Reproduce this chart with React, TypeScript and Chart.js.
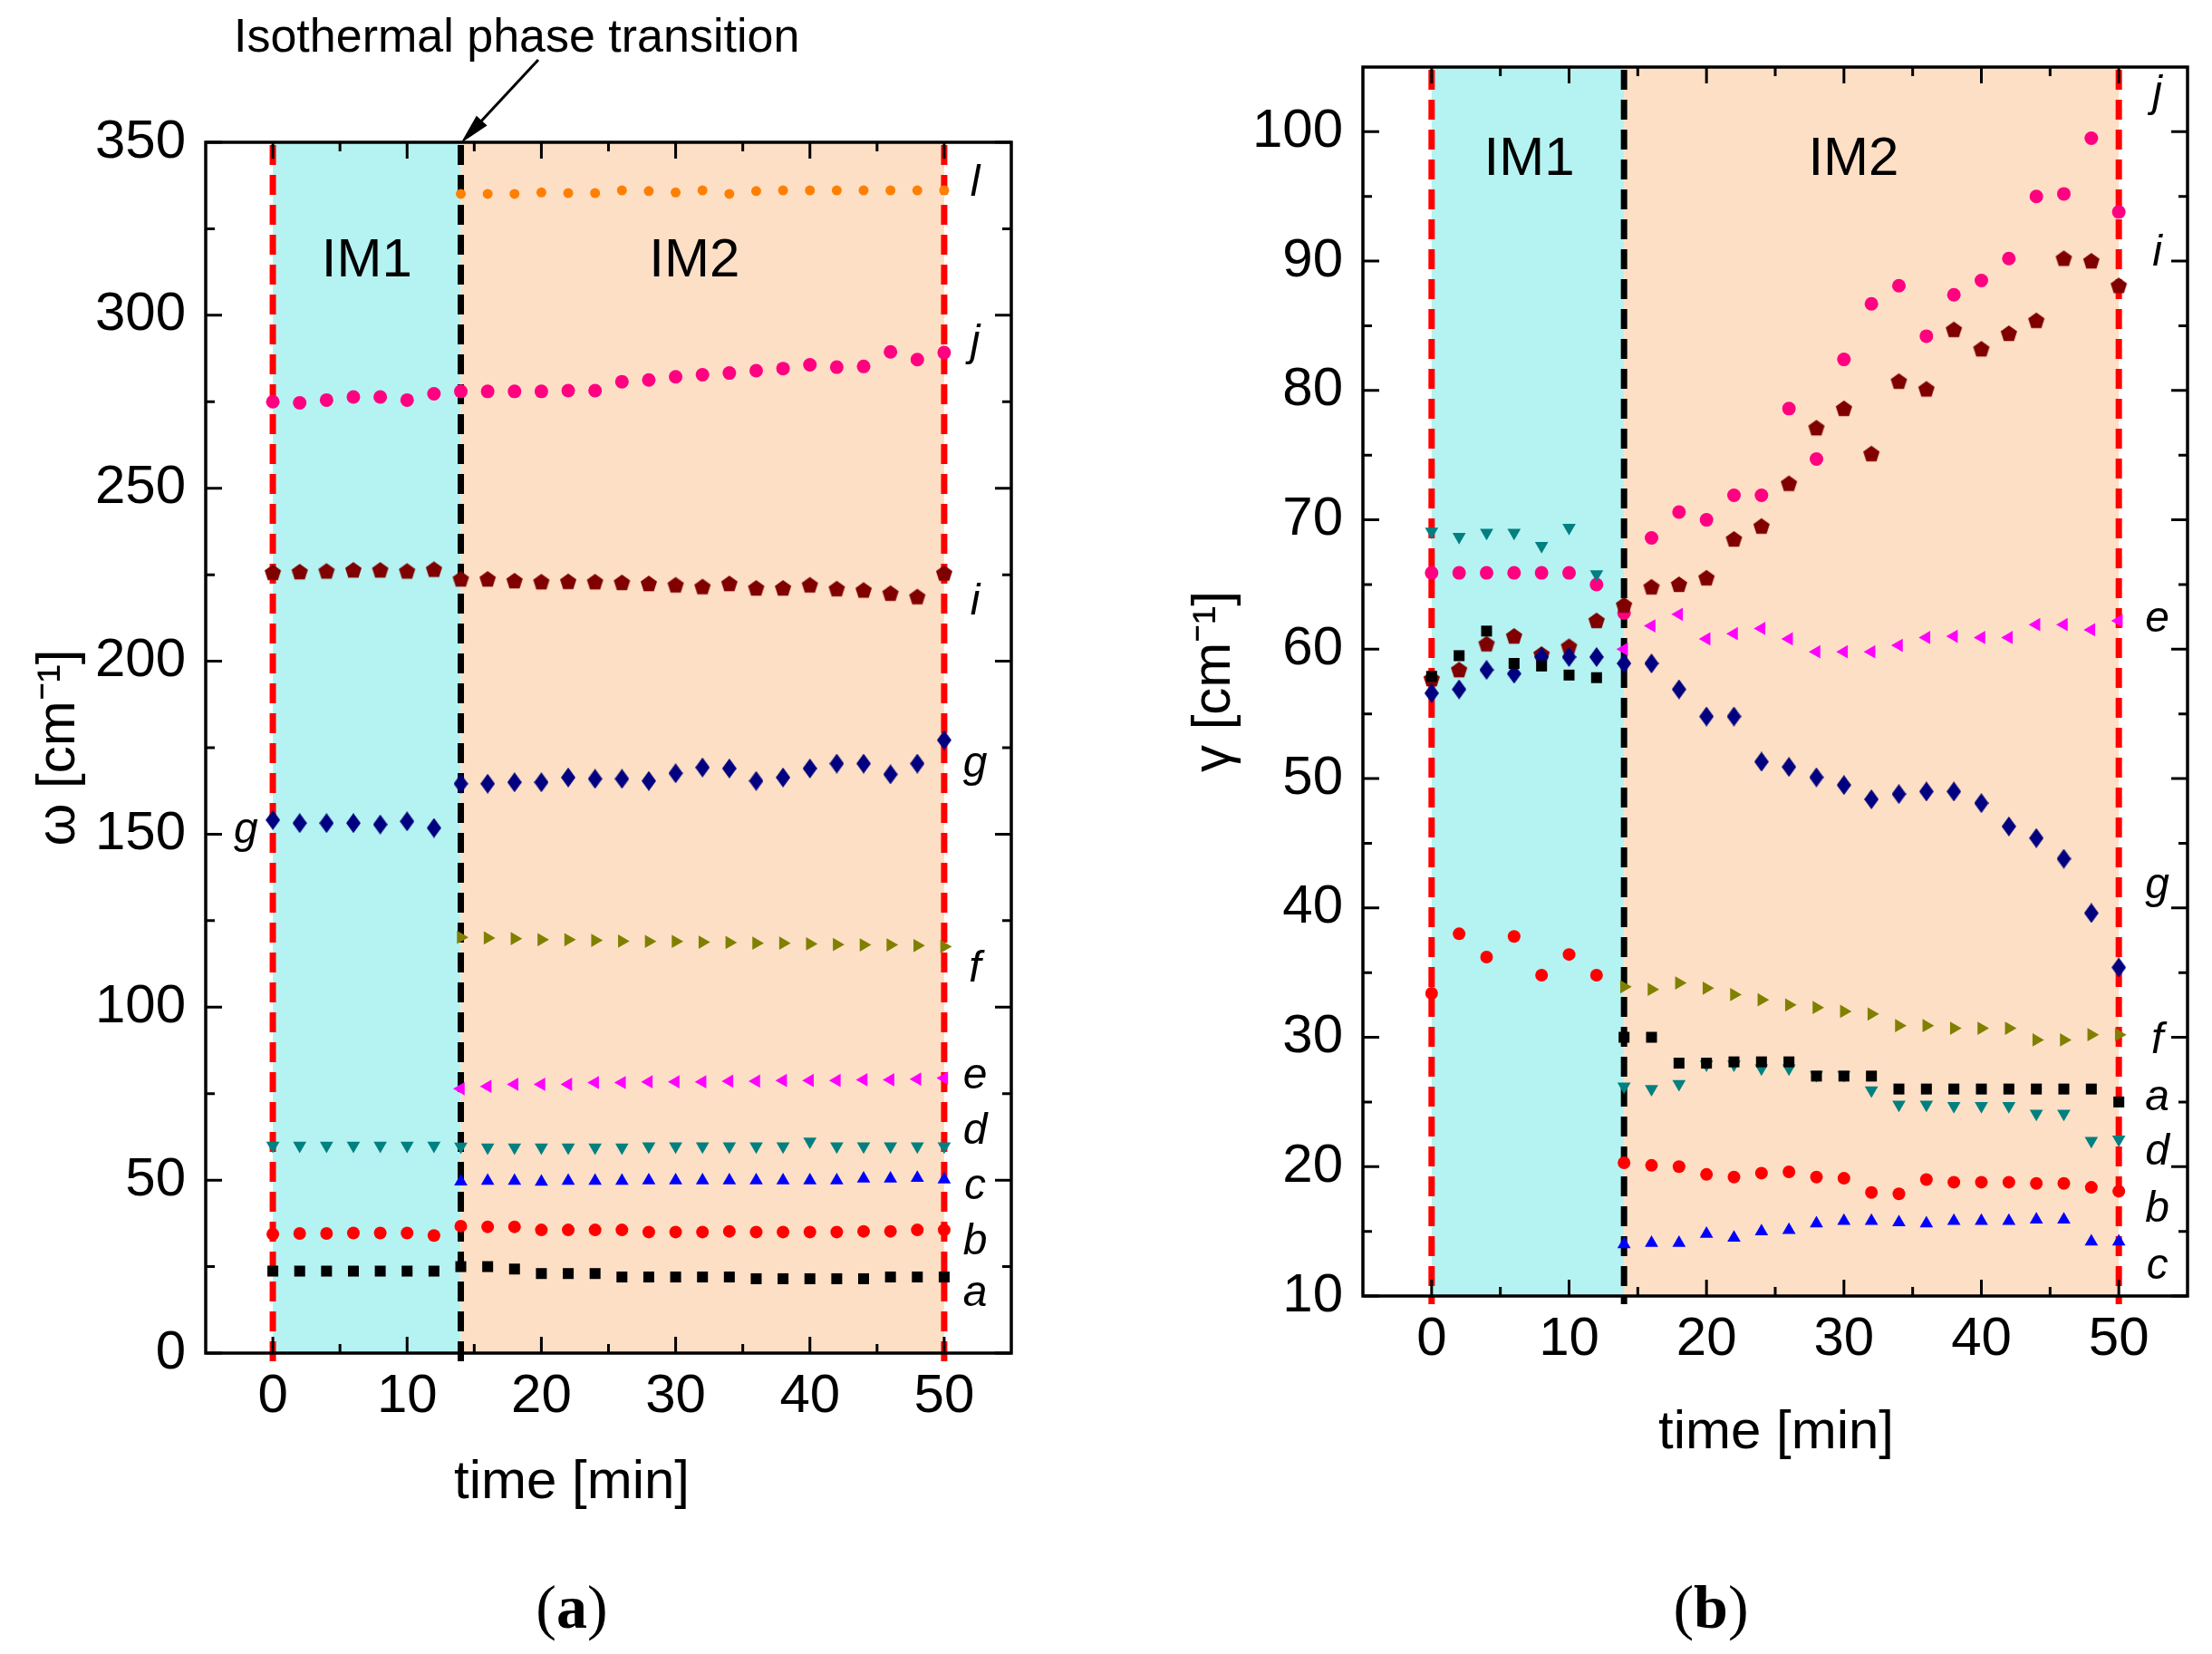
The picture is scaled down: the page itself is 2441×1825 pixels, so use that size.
import React, { useEffect, useRef } from "react";
import { Chart, registerables } from "chart.js";

Chart.register(...registerables);

const FONT = '"Liberation Sans", Arial, sans-serif';
Chart.defaults.font.family = FONT;
Chart.defaults.color = "#000";

const timeIM1 = [0, 2, 4, 6, 8, 10, 12];
const timeIM2 = [14, 16, 18, 20, 22, 24, 26, 28, 30, 32, 34, 36, 38, 40, 42, 44, 46, 48, 50];
const phaseBounds = [0, 14, 50];
const phaseNames = ["IM1", "IM2"];
const xTicks = [0, 10, 20, 30, 40, 50];
const yTicksA = [0, 50, 100, 150, 200, 250, 300, 350];
const yTicksB = [10, 20, 30, 40, 50, 60, 70, 80, 90, 100];

// (a) omega [cm-1]
const wA1 = [23.7, 23.7, 23.7, 23.7, 23.7, 23.7, 23.7];
const wA2 = [25, 25, 24.3, 23, 23, 23, 22, 22, 22, 22, 22, 21.5, 21.5, 21.5, 21.5, 21.5, 22, 22, 22];
const wB1 = [34.4, 34.6, 34.6, 34.7, 34.7, 34.7, 34.0];
const wB2 = [36.7, 36.5, 36.5, 35.6, 35.6, 35.6, 35.6, 35, 35, 35, 35.2, 35, 35, 35, 35, 35.2, 35.2, 35.6, 35.6];
const wC2 = [49.6, 49.8, 49.8, 49.5, 49.8, 49.8, 49.8, 49.9, 49.9, 49.9, 49.9, 49.9, 49.9, 49.9, 49.9, 50.4, 50.4, 50.6, 50.2];
const wD1 = [60, 60, 60, 60, 60, 60, 60];
const wD2 = [59.7, 59.5, 59.5, 59.5, 59.5, 59.5, 59.5, 59.8, 59.8, 59.8, 59.8, 59.8, 59.8, 61.2, 59.8, 59.8, 59.8, 59.8, 59.8];
const wE2 = [76.4, 77.1, 77.7, 77.7, 77.7, 78.2, 78.2, 78.4, 78.4, 78.4, 78.6, 78.6, 78.8, 78.8, 78.8, 79, 79, 79.2, 79.5];
const wF2 = [120.2, 120, 119.8, 119.5, 119.5, 119.3, 119.1, 119, 119, 118.8, 118.7, 118.5, 118.5, 118.3, 118.1, 118, 118, 117.8, 117.5];
const wG1 = [154.1, 153.2, 153.2, 153.2, 152.8, 153.7, 151.8];
const wG2 = [164.6, 164.6, 165, 165, 166.4, 166, 166, 165.4, 167.6, 169.3, 169, 165.4, 166.4, 169, 170.4, 170.4, 167.3, 170.4, 177.2];
const wI1 = [225.6, 225.8, 226.0, 226.3, 226.3, 226.0, 226.5];
const wI2 = [223.7, 223.7, 223.2, 222.9, 223.0, 222.9, 222.7, 222.4, 222.0, 221.5, 222.4, 221.1, 221.1, 222.0, 220.9, 220.5, 219.6, 218.6, 225.4];
const wJ1 = [275.0, 274.7, 275.5, 276.4, 276.4, 275.5, 277.3];
const wJ2 = [278, 278, 278, 278, 278.2, 278.2, 280.8, 281.3, 282.2, 282.8, 283.3, 284.0, 284.6, 285.7, 285.0, 285.2, 289.4, 287.2, 289.2];
const wL2 = [335.1, 335.1, 335.1, 335.5, 335.3, 335.3, 336.1, 335.9, 335.5, 336.1, 335.1, 335.9, 336.1, 336.1, 336.1, 336.1, 336.1, 336.1, 336.1];

// (b) gamma [cm-1]
const gA1 = [57.9, 59.5, 61.4, 58.9, 58.7, 58.0, 57.8];
const gA2 = [30, 30, 28, 28, 28.1, 28.1, 28.1, 27, 27, 27, 26, 26, 26, 26, 26, 26, 26, 26, 25];
const gB1 = [33.4, 38.0, 36.2, 37.8, 34.8, 36.4, 34.8];
const gB2 = [20.3, 20.1, 20.0, 19.4, 19.2, 19.5, 19.6, 19.2, 19.1, 18.0, 17.9, 19.0, 18.8, 18.8, 18.8, 18.7, 18.7, 18.4, 18.1];
const gC2 = [14.0, 14.1, 14.1, 14.8, 14.5, 15.0, 15.1, 15.6, 15.8, 15.8, 15.7, 15.6, 15.8, 15.8, 15.8, 15.9, 15.9, 14.2, 14.2];
const gD1 = [69.1, 68.7, 69.0, 69.0, 68.0, 69.4, 65.8];
const gD2 = [26.2, 26.0, 26.4, 27.9, 27.9, 27.6, 27.6, 27.1, 27.1, 25.9, 24.8, 24.8, 24.7, 24.7, 24.7, 24.1, 24.1, 22.0, 22.1];
const gE2 = [60.0, 61.8, 62.7, 60.8, 61.2, 61.6, 60.8, 59.8, 59.8, 59.8, 60.3, 60.9, 61.0, 60.9, 60.9, 61.9, 61.9, 61.5, 62.2];
const gF2 = [33.9, 33.7, 34.2, 33.8, 33.3, 32.9, 32.5, 32.3, 32.0, 31.8, 30.9, 30.9, 30.7, 30.7, 30.7, 29.8, 29.8, 30.2, 30.2];
const gG1 = [56.6, 56.9, 58.4, 58.1, 59.4, 59.4, 59.4];
const gG2 = [58.9, 58.9, 56.9, 54.8, 54.8, 51.3, 50.9, 50.1, 49.5, 48.4, 48.8, 49.0, 49.0, 48.1, 46.3, 45.4, 43.8, 39.6, 35.4];
const gI1 = [57.7, 58.4, 60.4, 61.0, 59.6, 60.2, 62.2];
const gI2 = [63.4, 64.8, 65.0, 65.5, 68.5, 69.5, 72.8, 77.1, 78.6, 75.1, 80.7, 80.1, 84.7, 83.2, 84.4, 85.4, 90.2, 90.0, 88.1];
const gJ1 = [65.9, 65.9, 65.9, 65.9, 65.9, 65.9, 65.0];
const gJ2 = [62.8, 68.6, 70.6, 70.0, 71.9, 71.9, 78.6, 74.7, 82.4, 86.7, 88.1, 84.2, 87.4, 88.5, 90.2, 95.0, 95.2, 99.5, 93.8];

const COLORS: Record<string, string> = {
  a: "#000000",
  b: "#ff0000",
  c: "#0000ff",
  d: "#008080",
  e: "#ff00ff",
  f: "#808000",
  g: "#000080",
  i: "#800000",
  j: "#ff0080",
  l: "#ff8000",
};

const MARKERS: Record<string, string> = {
  a: "square", b: "circle", c: "up", d: "down", e: "left", f: "right",
  g: "diamond", i: "pentagon", j: "bigcircle", l: "small",
};

type Series = { key: string; im1?: number[]; im2: number[] };

const seriesA: Series[] = [
  { key: "a", im1: wA1, im2: wA2 },
  { key: "b", im1: wB1, im2: wB2 },
  { key: "c", im2: wC2 },
  { key: "d", im1: wD1, im2: wD2 },
  { key: "e", im2: wE2 },
  { key: "f", im2: wF2 },
  { key: "g", im1: wG1, im2: wG2 },
  { key: "i", im1: wI1, im2: wI2 },
  { key: "j", im1: wJ1, im2: wJ2 },
  { key: "l", im2: wL2 },
];

const seriesB: Series[] = [
  { key: "a", im1: gA1, im2: gA2 },
  { key: "b", im1: gB1, im2: gB2 },
  { key: "c", im2: gC2 },
  { key: "d", im1: gD1, im2: gD2 },
  { key: "e", im2: gE2 },
  { key: "f", im2: gF2 },
  { key: "g", im1: gG1, im2: gG2 },
  { key: "i", im1: gI1, im2: gI2 },
  { key: "j", im1: gJ1, im2: gJ2 },
];

// curve labels next to the right axis (x, y in data units)
const labelsA = [
  { t: "l", x: 52.3, y: 338 }, { t: "j", x: 52.3, y: 292 }, { t: "i", x: 52.3, y: 217 },
  { t: "g", x: 52.3, y: 170 }, { t: "f", x: 52.3, y: 111 }, { t: "e", x: 52.3, y: 80 },
  { t: "d", x: 52.3, y: 64 }, { t: "c", x: 52.3, y: 48 }, { t: "b", x: 52.3, y: 32 },
  { t: "a", x: 52.3, y: 17 }, { t: "g", x: -2, y: 151 },
];
const labelsB = [
  { t: "j", x: 52.8, y: 102.9 }, { t: "i", x: 52.8, y: 90.6 }, { t: "e", x: 52.8, y: 62.3 },
  { t: "g", x: 52.8, y: 41.7 }, { t: "f", x: 52.8, y: 29.7 }, { t: "a", x: 52.8, y: 25.3 },
  { t: "d", x: 52.8, y: 21.1 }, { t: "b", x: 52.8, y: 16.7 }, { t: "c", x: 52.8, y: 12.3 },
];

function shapeCanvas(w: number, h: number, color: string, pts: number[][]) {
  const c = document.createElement("canvas");
  c.width = w;
  c.height = h;
  const g = c.getContext("2d")!;
  g.fillStyle = color;
  g.beginPath();
  pts.forEach(([px, py], i) => (i ? g.lineTo(px, py) : g.moveTo(px, py)));
  g.closePath();
  g.fill();
  return c;
}

function markerOpts(kind: string, color: string) {
  switch (kind) {
    case "square": return { pointStyle: "rect", radius: 8.5, rotation: 0 };
    case "circle": return { pointStyle: "circle", radius: 7, rotation: 0 };
    case "bigcircle": return { pointStyle: "circle", radius: 7.5, rotation: 0 };
    case "small": return { pointStyle: "circle", radius: 5.5, rotation: 0 };
    case "up": return { pointStyle: "triangle", radius: 8.5, rotation: 0 };
    case "down": return { pointStyle: "triangle", radius: 8.5, rotation: 180 };
    case "left": return { pointStyle: "triangle", radius: 8.5, rotation: 270 };
    case "right": return { pointStyle: "triangle", radius: 8.5, rotation: 90 };
    case "diamond":
      return { pointStyle: shapeCanvas(16, 22, color, [[8, 0], [16, 11], [8, 22], [0, 11]]), radius: 9, rotation: 0 };
    default: {
      const r = 9.5;
      const pts: number[][] = [];
      for (let k = 0; k < 5; k++) {
        const a = -Math.PI / 2 + (k * 2 * Math.PI) / 5;
        pts.push([10 + r * Math.cos(a), 10.5 + r * Math.sin(a)]);
      }
      return { pointStyle: shapeCanvas(20, 20, color, pts), radius: 9, rotation: 0 };
    }
  }
}

type PanelCfg = {
  series: Series[];
  yTicks: number[];
  yMin: number;
  yMax: number;
  yTitle: string;
  box: { left: number; top: number; w: number; h: number };
  plot: { left: number; top: number; right: number; bottom: number };
  xTitleX: number;
  xTitleY: number;
  yTitleX: number;
  namesX: number[];
  namesY: number;
  labels: { t: string; x: number; y: number }[];
  annotate: boolean;
};

const panelA: PanelCfg = {
  series: seriesA,
  yTicks: yTicksA,
  yMin: 0,
  yMax: 350,
  yTitle: "\u03c9 [cm\u207b\u00b9]",
  box: { left: 0, top: 0, w: 1200, h: 1700 },
  plot: { left: 227, top: 157, right: 1116, bottom: 1493 },
  xTitleX: 631,
  xTitleY: 1636,
  yTitleX: 65,
  namesX: [7, 31.4],
  namesY: 315.6,
  labels: labelsA,
  annotate: true,
};

const panelB: PanelCfg = {
  series: seriesB,
  yTicks: yTicksB,
  yMin: 10,
  yMax: 105,
  yTitle: "\u03b3 [cm\u207b\u00b9]",
  box: { left: 1260, top: 0, w: 1181, h: 1700 },
  plot: { left: 1504, top: 74, right: 2414, bottom: 1430 },
  xTitleX: 1960,
  xTitleY: 1581,
  yTitleX: 1340,
  namesX: [7.1, 30.7],
  namesY: 97.8,
  labels: labelsB,
  annotate: false,
};

const midpoints = (arr: number[]) => arr.slice(1).map((v, i) => (v + arr[i]) / 2);

const Panel: React.FC<{ cfg: PanelCfg }> = ({ cfg }) => {
  const ref = useRef<HTMLCanvasElement | null>(null);

  useEffect(() => {
    if (!ref.current) return;
    const ctx = ref.current.getContext("2d");
    if (!ctx) return;

    const { box, plot } = cfg;
    const half = 36; // half line height of 60px text
    const yAxisW = plot.left - box.left;
    const xAxisH = cfg.xTitleY + half - plot.bottom;
    const padBottom = box.top + box.h - plot.bottom - xAxisH;

    const datasets = cfg.series.map((s) => {
      const m = markerOpts(MARKERS[s.key], COLORS[s.key]);
      const pts = [
        ...(s.im1 ? s.im1.map((v, i) => ({ x: timeIM1[i], y: v })) : []),
        ...s.im2.map((v, i) => ({ x: timeIM2[i], y: v })),
      ];
      return {
        label: s.key,
        data: pts,
        showLine: false,
        pointStyle: m.pointStyle as any,
        pointRadius: m.radius,
        pointRotation: m.rotation,
        pointBackgroundColor: COLORS[s.key],
        pointBorderColor: COLORS[s.key],
        pointBorderWidth: 0,
      };
    });

    const decor = {
      id: "decor",
      beforeDatasetsDraw(chart: any) {
        const { ctx: c, chartArea: ca, scales } = chart;
        const x = scales.x;
        const y = scales.y;
        const px = phaseBounds.map((v) => x.getPixelForValue(v));
        c.save();
        c.fillStyle = "#b4f3f2";
        c.fillRect(px[0], ca.top, px[1] - px[0], ca.bottom - ca.top);
        c.fillStyle = "#fddfc5";
        c.fillRect(px[1], ca.top, px[2] - px[1], ca.bottom - ca.top);
        c.fillStyle = "#000";
        c.font = `60px ${FONT}`;
        c.textAlign = "center";
        c.textBaseline = "middle";
        phaseNames.forEach((n, i) => c.fillText(n, x.getPixelForValue(cfg.namesX[i]), y.getPixelForValue(cfg.namesY)));
        c.lineWidth = 7;
        c.setLineDash([22, 11]);
        const lines: [number, string][] = [[px[0], "#ff0000"], [px[2], "#ff0000"], [px[1], "#000000"]];
        lines.forEach(([p, col]) => {
          c.strokeStyle = col;
          c.beginPath();
          c.moveTo(p, ca.top + 3);
          c.lineTo(p, ca.bottom + 9);
          c.stroke();
        });
        c.restore();
      },
      afterDatasetsDraw(chart: any) {
        const { ctx: c, chartArea: ca, scales } = chart;
        const x = scales.x;
        const y = scales.y;
        c.save();
        c.strokeStyle = "#000";
        c.lineWidth = 3.5;
        c.strokeRect(ca.left, ca.top, ca.right - ca.left, ca.bottom - ca.top);
        c.lineWidth = 3;
        const tick = (vals: number[], len: number) => {
          vals.forEach((v) => {
            const p = x.getPixelForValue(v);
            c.beginPath();
            c.moveTo(p, ca.bottom);
            c.lineTo(p, ca.bottom - len);
            c.moveTo(p, ca.top);
            c.lineTo(p, ca.top + len);
            c.stroke();
          });
        };
        const ytick = (vals: number[], len: number) => {
          vals.forEach((v) => {
            const p = y.getPixelForValue(v);
            c.beginPath();
            c.moveTo(ca.left, p);
            c.lineTo(ca.left + len, p);
            c.moveTo(ca.right, p);
            c.lineTo(ca.right - len, p);
            c.stroke();
          });
        };
        tick(xTicks, 18);
        tick(midpoints(xTicks), 10);
        ytick(cfg.yTicks, 18);
        ytick(midpoints(cfg.yTicks), 10);

        c.fillStyle = "#000";
        c.font = `italic 48px ${FONT}`;
        c.textAlign = "center";
        c.textBaseline = "middle";
        cfg.labels.forEach((l) => c.fillText(l.t, x.getPixelForValue(l.x), y.getPixelForValue(l.y)));

        // x axis title
        c.font = `60px ${FONT}`;
        c.fillText("time [min]", cfg.xTitleX - box.left, cfg.xTitleY - box.top);

        if (cfg.annotate) {
          c.font = `52px ${FONT}`;
          c.textAlign = "left";
          c.textBaseline = "alphabetic";
          c.fillText("Isothermal phase transition", 258, 57 - box.top);
          const tipX = x.getPixelForValue(phaseBounds[1]);
          const tipY = ca.top + 1;
          const sx = 594;
          const sy = 66;
          const ang = Math.atan2(tipY - sy, tipX - sx);
          c.lineWidth = 3;
          c.beginPath();
          c.moveTo(sx, sy);
          c.lineTo(tipX - 20 * Math.cos(ang), tipY - 20 * Math.sin(ang));
          c.stroke();
          c.beginPath();
          c.moveTo(tipX, tipY);
          c.lineTo(tipX - 34 * Math.cos(ang) + 8 * Math.sin(ang), tipY - 34 * Math.sin(ang) - 8 * Math.cos(ang));
          c.lineTo(tipX - 34 * Math.cos(ang) - 8 * Math.sin(ang), tipY - 34 * Math.sin(ang) + 8 * Math.cos(ang));
          c.closePath();
          c.fill();
        }
        c.restore();
      },
    };

    const chartInstance = new Chart(ctx, {
      type: "scatter",
      data: { datasets },
      plugins: [decor],
      options: {
        responsive: false,
        animation: false,
        layout: {
          padding: {
            left: 0,
            top: plot.top - box.top,
            right: box.left + box.w - plot.right,
            bottom: padBottom,
          },
        },
        plugins: {
          legend: { display: false },
          tooltip: { enabled: false },
        },
        scales: {
          x: {
            type: "linear",
            min: -5,
            max: 55,
            afterBuildTicks: (s: any) => {
              s.ticks = xTicks.map((v) => ({ value: v }));
            },
            afterFit: (s: any) => {
              s.height = xAxisH;
            },
            grid: { display: false, drawTicks: false },
            border: { display: false },
            ticks: { font: { size: 60 }, color: "#000", padding: 12, maxRotation: 0 },
            title: { display: false },
          },
          y: {
            type: "linear",
            min: cfg.yMin,
            max: cfg.yMax,
            afterBuildTicks: (s: any) => {
              s.ticks = cfg.yTicks.map((v) => ({ value: v }));
            },
            afterFit: (s: any) => {
              s.width = yAxisW;
            },
            grid: { display: false, drawTicks: false },
            border: { display: false },
            ticks: { font: { size: 60 }, color: "#000", padding: 22 },
            title: {
              display: true,
              text: cfg.yTitle,
              font: { size: 60, lineHeight: 1.2 },
              color: "#000",
              padding: { top: cfg.yTitleX - box.left - half, bottom: 0 },
            },
          },
        },
      },
    });

    return () => {
      chartInstance.destroy();
    };
  }, [cfg]);

  return (
    <canvas
      ref={ref}
      width={cfg.box.w}
      height={cfg.box.h}
      style={{ position: "absolute", left: cfg.box.left, top: cfg.box.top, width: cfg.box.w, height: cfg.box.h }}
    />
  );
};

const captionStyle: React.CSSProperties = {
  position: "absolute",
  top: 1773,
  transform: "translate(-50%, -50%)",
  font: '68px "Liberation Serif", "Times New Roman", serif',
  color: "#000",
  whiteSpace: "nowrap",
};

const App: React.FC = () => {
  return (
    <div style={{ position: "absolute", left: 0, top: 0, width: 2441, height: 1825, background: "#fff", overflow: "hidden" }}>
      <Panel cfg={panelA} />
      <Panel cfg={panelB} />
      <div style={{ ...captionStyle, left: 631 }}>
        (<b>a</b>)
      </div>
      <div style={{ ...captionStyle, left: 1888 }}>
        (<b>b</b>)
      </div>
    </div>
  );
};

export default App;
